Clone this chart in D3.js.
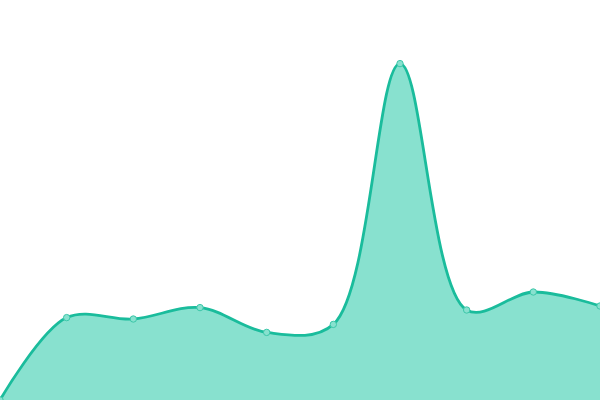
<!DOCTYPE html>
<html>
<head>
<meta charset="utf-8">
<script src="https://cdn.jsdelivr.net/npm/d3@7"></script>
<style>
  html, body { margin: 0; padding: 0; background: #fff; }
  svg { display: block; }
</style>
</head>
<body>
<svg id="chart" width="600" height="400"></svg>
<script>
var width = 600, height = 400;

// data
var categories = ["1", "2", "3", "4", "5", "6", "7", "8", "9", "10"];
var values = [0, 20.6, 20.25, 23.1, 16.9, 18.9, 84.1, 22.5, 27, 23.5];

var svg = d3.select("#chart");

var x = d3.scalePoint()
    .domain(categories)
    .range([0, width]);

var y = d3.scaleLinear()
    .domain([0, 100])
    .range([height, 0]);

var data = categories.map(function (c, i) { return { cat: c, value: values[i] }; });

var curve = d3.curveCatmullRom.alpha(0.5);

var area = d3.area()
    .x(function (d) { return x(d.cat); })
    .y0(height)
    .y1(function (d) { return y(d.value); })
    .curve(curve);

var line = d3.line()
    .x(function (d) { return x(d.cat); })
    .y(function (d) { return y(d.value); })
    .curve(curve);

svg.append("path")
    .datum(data)
    .attr("d", area)
    .attr("fill", "#88e1cf");

svg.append("path")
    .datum(data)
    .attr("d", line)
    .attr("fill", "none")
    .attr("stroke", "#1abc9c")
    .attr("stroke-width", 2.8);

// little dots on every point
svg.selectAll(".dot")
    .data(data)
    .enter().append("circle")
    .attr("class", "dot")
    .attr("cx", function (d) { return x(d.cat); })
    .attr("cy", function (d) { return y(d.value); })
    .attr("r", 3.2)
    .attr("fill", "#88e1cf")
    .attr("stroke", "#3cc7a9")
    .attr("stroke-width", 1);
</script>
</body>
</html>
